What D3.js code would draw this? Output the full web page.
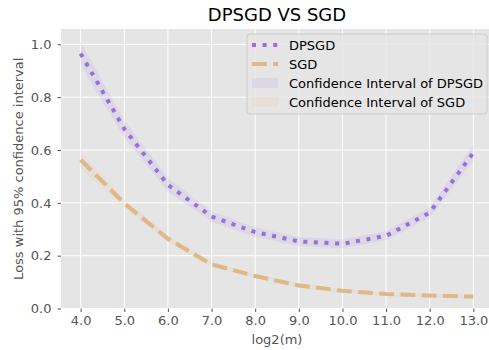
<!DOCTYPE html>
<html>
<head>
<meta charset="utf-8">
<script src="https://d3js.org/d3.v7.min.js"></script>
<style>
  body { margin: 0; background: #fff; }
  text { font-family: "DejaVu Sans", sans-serif; }
  .grid line { stroke: #fff; stroke-width: 1; }
</style>
</head>
<body>
<svg width="489" height="350"></svg>
<script>
// data
var logM = [4, 5, 6, 7, 8, 9, 10, 11, 12, 13];
var dpsgd = [0.965, 0.68, 0.468, 0.348, 0.289, 0.254, 0.245, 0.275, 0.363, 0.59];
var dpsgdHalf = [0.045, 0.032, 0.025, 0.02, 0.018, 0.017, 0.017, 0.017, 0.02, 0.03];
var sgd = [0.563, 0.398, 0.264, 0.167, 0.123, 0.087, 0.067, 0.055, 0.049, 0.045];
var sgdHalf = [0.03, 0.016, 0.012, 0.01, 0.008, 0.008, 0.007, 0.007, 0.007, 0.007];
var yTicks = [0, 0.2, 0.4, 0.6, 0.8, 1.0];

var svg = d3.select("svg");
var pLeft = 61, pRight = 493, pTop = 29, pBottom = 308.5;
var bandAlpha = 0.12;

var x = d3.scaleLinear().domain([3.55, 13.45]).range([pLeft, pRight]);
var y = d3.scaleLinear().domain([0, 1.058]).range([pBottom, pTop]);

svg.append("defs").append("clipPath").attr("id", "plot")
  .append("rect").attr("x", pLeft).attr("y", pTop)
  .attr("width", pRight - pLeft).attr("height", pBottom - pTop);

// background
svg.append("rect")
    .attr("x", pLeft).attr("y", pTop)
    .attr("width", pRight - pLeft).attr("height", pBottom - pTop)
    .attr("fill", "#E5E5E5");

// grid
var grid = svg.append("g").attr("class", "grid");
grid.selectAll(".gx").data(logM).enter().append("line")
    .attr("x1", function(d) { return x(d); }).attr("x2", function(d) { return x(d); })
    .attr("y1", pTop).attr("y2", pBottom);
grid.selectAll(".gy").data(yTicks).enter().append("line")
    .attr("x1", pLeft).attr("x2", pRight)
    .attr("y1", function(d) { return y(d); }).attr("y2", function(d) { return y(d); });

// axes
var xAxis = svg.append("g")
    .attr("transform", "translate(0," + pBottom + ")")
    .call(d3.axisBottom(x).tickValues(logM).tickFormat(d3.format(".1f")).tickSize(3.5).tickPadding(4));
var yAxis = svg.append("g")
    .attr("transform", "translate(" + pLeft + ",0)")
    .call(d3.axisLeft(y).tickValues(yTicks).tickFormat(d3.format(".1f")).tickSize(3.5).tickPadding(6));
[xAxis, yAxis].forEach(function(a) {
  a.select(".domain").remove();
  a.selectAll("line").attr("stroke", "#555");
  a.selectAll("text").attr("fill", "#555").style("font-size", "13px")
    .style("font-family", "DejaVu Sans");
});

var plot = svg.append("g").attr("clip-path", "url(#plot)");

var band = function(vals, half) {
  return d3.area()
    .x(function(d, i) { return x(logM[i]); })
    .y0(function(d, i) { return y(vals[i] - half[i]); })
    .y1(function(d, i) { return y(vals[i] + half[i]); });
};
var line = d3.line()
    .x(function(d, i) { return x(logM[i]); })
    .y(function(d) { return y(d); });

plot.append("path").datum(dpsgd).attr("d", band(dpsgd, dpsgdHalf))
    .attr("fill", "#9370DB").attr("fill-opacity", bandAlpha);
plot.append("path").datum(sgd).attr("d", band(sgd, sgdHalf))
    .attr("fill", "#DEB887").attr("fill-opacity", bandAlpha);

plot.append("path").datum(dpsgd).attr("d", line)
    .attr("fill", "none").attr("stroke", "#9370DB").attr("stroke-width", 4)
    .attr("stroke-dasharray", "4,6.6");
plot.append("path").datum(sgd).attr("d", line)
    .attr("fill", "none").attr("stroke", "#DEB887").attr("stroke-width", 4)
    .attr("stroke-dasharray", "14.8,6.4");

// title and labels
svg.append("text").attr("x", (pLeft + pRight) / 2).attr("y", 21)
    .attr("text-anchor", "middle").style("font-size", "18px").attr("fill", "#000")
    .text("DPSGD VS SGD");
svg.append("text").attr("x", (pLeft + pRight) / 2).attr("y", 343.5)
    .attr("text-anchor", "middle").style("font-size", "13px").attr("fill", "#555")
    .text("log2(m)");
svg.append("text")
    .attr("transform", "translate(22.5," + ((pTop + pBottom) / 2) + ") rotate(-90)")
    .attr("text-anchor", "middle").style("font-size", "13px").attr("fill", "#555")
    .text("Loss with 95% confidence interval");

// legend
var lg = svg.append("g").attr("transform", "translate(247,34)");
lg.append("rect").attr("width", 240).attr("height", 80).attr("rx", 3)
    .attr("fill", "#E5E5E5").attr("fill-opacity", 0.8)
    .attr("stroke", "#CCCCCC").attr("stroke-width", 1);
var items = [
  {label: "DPSGD", kind: "line", color: "#9370DB", dash: "4,6.6"},
  {label: "SGD", kind: "line", color: "#DEB887", dash: "14.8,6.4"},
  {label: "Confidence Interval of DPSGD", kind: "patch", color: "#9370DB"},
  {label: "Confidence Interval of SGD", kind: "patch", color: "#DEB887"}
];
var row = lg.selectAll(".item").data(items).enter().append("g")
    .attr("transform", function(d, i) { return "translate(0," + (11 + i * 19) + ")"; });
row.filter(function(d) { return d.kind === "line"; }).append("line")
    .attr("x1", 5).attr("x2", 31).attr("y1", 0).attr("y2", 0)
    .attr("stroke", function(d) { return d.color; }).attr("stroke-width", 4)
    .attr("stroke-dasharray", function(d) { return d.dash; });
row.filter(function(d) { return d.kind === "patch"; }).append("rect")
    .attr("x", 5).attr("y", -5).attr("width", 26).attr("height", 10)
    .attr("fill", function(d) { return d.color; }).attr("fill-opacity", bandAlpha);
row.append("text").attr("x", 42).attr("y", 4.5)
    .style("font-size", "13px").attr("fill", "#000")
    .text(function(d) { return d.label; });
</script>
</body>
</html>
